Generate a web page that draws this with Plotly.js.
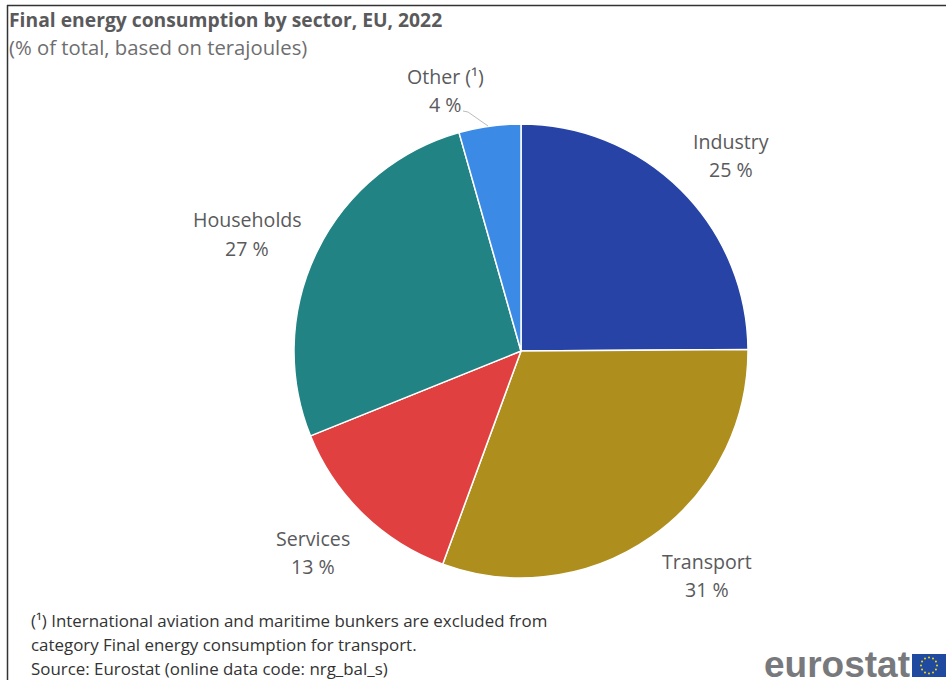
<!DOCTYPE html>
<html><head><meta charset="utf-8">
<script src="https://cdn.plot.ly/plotly-3.0.1.min.js"></script>
<style>html,body{margin:0;padding:0;background:#fff;overflow:hidden}#c{width:946px;height:680px}</style>
</head><body><div id="c"></div>
<script>
const categories = ['Industry','Transport','Services','Households','Other (¹)'];
const values = [24.9,30.7,13.3,26.7,4.4];
const percentLabels = ['25 %','31 %','13 %','27 %','4 %'];
const colors = ['#2743a6','#ae8f1e','#e04040','#218383','#3a8ae6'];
const titleText = 'Final energy consumption by sector, EU, 2022';
const subtitleText = '(% of total, based on terajoules)';
const footnotes = ['(¹) International aviation and maritime bunkers are excluded from','category Final energy consumption for transport.','Source: Eurostat (online data code: nrg_bal_s)'];
const W=946,H=680,FONT='"Open Sans","Noto Sans",sans-serif',GREY='#5a5a5c';
const X=p=>p/W, Y=p=>1-p/H;
const labelPos=[[731,141],[707,561],[313,538],[247,220],[445,76]];
const note=(text,x,y,size,anchor,color,family)=>({xref:'paper',yref:'paper',x:X(x),y:Y(y),text,showarrow:false,
  xanchor:anchor,yanchor:'middle',align:anchor,font:{family:family||FONT,size,color:color||GREY}});
const annotations=[
  note('<b>'+titleText+'</b>',7,19,19.3,'left'),
  note(subtitleText,7,47,20.3,'left','#6e6e70'),
];
categories.forEach((c,i)=>{
  annotations.push(note(c,labelPos[i][0],labelPos[i][1],19.6,'center'));
  annotations.push(note(percentLabels[i],labelPos[i][0],labelPos[i][1]+28,19.6,'center'));
});
footnotes.forEach((t,i)=>annotations.push(note(t,29,620+i*24,16.9,'left','#333')));
annotations.push(note('<b>eurostat</b>',762,664,37,'left','#77797c','"Liberation Sans",sans-serif'));
const line=(x0,y0,x1,y1,color,w)=>({type:'line',xref:'paper',yref:'paper',x0:X(x0),y0:Y(y0),x1:X(x1),y1:Y(y1),line:{color,width:w}});
const shapes=[
  line(7,5.5,946,5.5,'#333',1.5),
  line(7.5,5,7.5,680,'#333',1.5),
  line(463,111,468,112,'#bbb',1),
  line(468,112,488,126,'#bbb',1),
  {type:'rect',xref:'paper',yref:'paper',x0:X(912),x1:X(946),y0:Y(677),y1:Y(654),fillcolor:'#1f4aa0',line:{width:0}}
];
for(let k=0;k<12;k++){const a=k*Math.PI/6,cx=929+8*Math.cos(a),cy=665.5+8*Math.sin(a);
  shapes.push({type:'circle',xref:'paper',yref:'paper',x0:X(cx-1),x1:X(cx+1),y0:Y(cy+1),y1:Y(cy-1),fillcolor:'#f5d90a',line:{width:0}});}
Plotly.newPlot('c',[{type:'pie',labels:categories,values,sort:false,direction:'clockwise',rotation:0,
  marker:{colors,line:{color:'#fff',width:1.5}},textinfo:'none',hoverinfo:'label+percent',showlegend:false,automargin:false,
  domain:{x:[X(294),X(748)],y:[Y(578),Y(124)]}}],
  {width:W,height:H,margin:{l:0,r:0,t:0,b:0},paper_bgcolor:'#fff',showlegend:false,annotations,shapes},{displayModeBar:false,staticPlot:true});
</script></body></html>
